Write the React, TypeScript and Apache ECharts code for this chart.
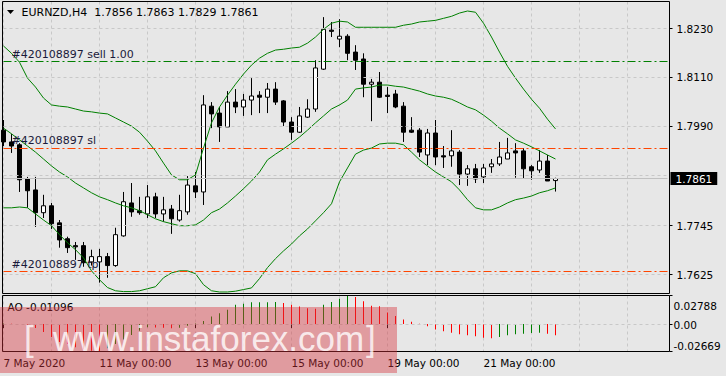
import React, { useEffect, useRef } from 'react';
import * as echarts from 'echarts';

// ---- categories (H4 bars) ----
const tradingDays = ['7 May', '8 May', '11 May', '12 May', '13 May', '14 May', '15 May', '18 May', '19 May', '20 May', '21 May', '22 May'];
const barHours = ['00:00', '04:00', '08:00', '12:00', '16:00', '20:00'];
const futureSlots = ['f1', 'f2', 'f3', 'f4', 'f5', 'f6', 'f7', 'f8', 'f9', 'f10', 'f11', 'f12'];

// ---- EURNZD H4 candles ----
const opens = [1.7980, 1.7951, 1.7944, 1.7860, 1.7833, 1.7777, 1.7794, 1.7752, 1.7713, 1.7696,
  1.7696, 1.7656, 1.7656, 1.7669, 1.7647, 1.7720, 1.7801, 1.7782, 1.7774, 1.7816,
  1.7774, 1.7786, 1.7759, 1.7779, 1.7843, 1.7828, 1.8039, 1.8022, 1.7988, 1.8049,
  1.8037, 1.8054, 1.8066, 1.8061, 1.8081, 1.8052, 1.8000, 1.7975, 1.8012, 1.8032,
  1.8130, 1.8226, 1.8204, 1.8211, 1.8172, 1.8155, 1.8093, 1.8098, 1.8066, 1.8069,
  1.8039, 1.7980, 1.7980, 1.7919, 1.7973, 1.7917, 1.7917, 1.7926, 1.7872, 1.7885,
  1.7865, 1.7890, 1.7897, 1.7909, 1.7929, 1.7929, 1.7890, 1.7882, 1.7904, 1.7856];
const closes = [1.7951, 1.7941, 1.7858, 1.7831, 1.7777, 1.7794, 1.7750, 1.7710, 1.7691, 1.7693,
  1.7654, 1.7669, 1.7669, 1.7647, 1.7723, 1.7804, 1.7779, 1.7777, 1.7816, 1.7774,
  1.7784, 1.7762, 1.7782, 1.7845, 1.7828, 1.8042, 1.8020, 1.7988, 1.8049, 1.8037,
  1.8054, 1.8064, 1.8061, 1.8081, 1.8049, 1.8000, 1.7975, 1.8015, 1.8032, 1.8133,
  1.8228, 1.8223, 1.8211, 1.8169, 1.8152, 1.8093, 1.8098, 1.8061, 1.8063, 1.8037,
  1.7975, 1.7975, 1.7926, 1.7973, 1.7914, 1.7914, 1.7929, 1.7872, 1.7885, 1.7860,
  1.7887, 1.7897, 1.7914, 1.7924, 1.7924, 1.7885, 1.7880, 1.7904, 1.7855, 1.7861];
const lows = [1.7941, 1.7924, 1.7828, 1.7789, 1.7742, 1.7764, 1.7737, 1.7691, 1.7678, 1.7661,
  1.7644, 1.7647, 1.7605, 1.7617, 1.7644, 1.7718, 1.7767, 1.7772, 1.7764, 1.7764,
  1.7755, 1.7725, 1.7755, 1.7772, 1.7813, 1.7796, 1.7985, 1.7951, 1.7988, 1.8022,
  1.8015, 1.8017, 1.8022, 1.8022, 1.8042, 1.7990, 1.7956, 1.7973, 1.8010, 1.8025,
  1.8128, 1.8209, 1.8184, 1.8152, 1.8128, 1.8061, 1.8002, 1.8059, 1.8022, 1.8034,
  1.7951, 1.7973, 1.7914, 1.7894, 1.7894, 1.7887, 1.7890, 1.7845, 1.7843, 1.7850,
  1.7850, 1.7875, 1.7892, 1.7909, 1.7863, 1.7860, 1.7858, 1.7875, 1.7855, 1.7829];
const highs = [1.8005, 1.7971, 1.7948, 1.7865, 1.7865, 1.7821, 1.7801, 1.7759, 1.7718, 1.7705,
  1.7705, 1.7686, 1.7688, 1.7678, 1.7740, 1.7828, 1.7850, 1.7816, 1.7845, 1.7826,
  1.7816, 1.7796, 1.7821, 1.7867, 1.7877, 1.8066, 1.8049, 1.8037, 1.8076, 1.8081,
  1.8069, 1.8108, 1.8076, 1.8096, 1.8098, 1.8054, 1.8012, 1.8037, 1.8056, 1.8152,
  1.8258, 1.8246, 1.8253, 1.8216, 1.8189, 1.8169, 1.8106, 1.8123, 1.8086, 1.8079,
  1.8049, 1.8012, 1.7985, 1.7983, 1.8005, 1.7941, 1.7980, 1.7931, 1.7894, 1.7897,
  1.7897, 1.7909, 1.7951, 1.7961, 1.7948, 1.7936, 1.7894, 1.7931, 1.7919, 1.7863];

// ---- Bollinger Bands ----
const bbUpper = [1.8187, 1.8169, 1.8147, 1.8108, 1.8086, 1.8059, 1.8042, 1.8039, 1.8037, 1.8032,
  1.8027, 1.8025, 1.8022, 1.8020, 1.8010, 1.8000, 1.7990, 1.7975, 1.7953, 1.7929,
  1.7899, 1.7870, 1.7858, 1.7858, 1.7870, 1.7936, 1.7998, 1.8037, 1.8066, 1.8093,
  1.8118, 1.8140, 1.8157, 1.8169, 1.8177, 1.8179, 1.8182, 1.8184, 1.8194, 1.8209,
  1.8228, 1.8243, 1.8248, 1.8246, 1.8233, 1.8233, 1.8233, 1.8233, 1.8233, 1.8233,
  1.8238, 1.8241, 1.8246, 1.8248, 1.8250, 1.8255, 1.8260, 1.8268, 1.8273, 1.8270,
  1.8243, 1.8209, 1.8172, 1.8137, 1.8108, 1.8081, 1.8056, 1.8034, 1.8007, 1.7983];
const bbMiddle = [1.7985, 1.7971, 1.7956, 1.7941, 1.7926, 1.7909, 1.7892, 1.7877, 1.7865, 1.7850,
  1.7838, 1.7826, 1.7816, 1.7809, 1.7801, 1.7794, 1.7789, 1.7782, 1.7772, 1.7762,
  1.7755, 1.7750, 1.7745, 1.7745, 1.7747, 1.7759, 1.7777, 1.7786, 1.7801, 1.7818,
  1.7836, 1.7855, 1.7877, 1.7907, 1.7921, 1.7934, 1.7948, 1.7963, 1.7980, 1.7998,
  1.8015, 1.8032, 1.8042, 1.8054, 1.8081, 1.8084, 1.8086, 1.8091, 1.8091, 1.8088,
  1.8086, 1.8081, 1.8076, 1.8069, 1.8064, 1.8061, 1.8056, 1.8047, 1.8037, 1.8030,
  1.8017, 1.8002, 1.7985, 1.7971, 1.7956, 1.7948, 1.7939, 1.7929, 1.7919, 1.7909];
const bbLower = [1.7789, 1.7789, 1.7791, 1.7789, 1.7774, 1.7759, 1.7745, 1.7723, 1.7703, 1.7686,
  1.7666, 1.7634, 1.7612, 1.7593, 1.7585, 1.7583, 1.7583, 1.7585, 1.7590, 1.7595,
  1.7617, 1.7629, 1.7634, 1.7634, 1.7627, 1.7600, 1.7585, 1.7582, 1.7582, 1.7584,
  1.7588, 1.7592, 1.7615, 1.7642, 1.7664, 1.7683, 1.7700, 1.7720, 1.7737, 1.7757,
  1.7777, 1.7799, 1.7853, 1.7887, 1.7921, 1.7931, 1.7936, 1.7946, 1.7948, 1.7948,
  1.7944, 1.7926, 1.7907, 1.7892, 1.7877, 1.7865, 1.7853, 1.7833, 1.7809, 1.7789,
  1.7784, 1.7784, 1.7791, 1.7801, 1.7809, 1.7813, 1.7818, 1.7826, 1.7831, 1.7838];

// ---- Awesome Oscillator ----
const aoValues = [0.0005, 0.0004, 0.0002, -0.0010, -0.0037, -0.0076, -0.0126, -0.0175, -0.0195, -0.0225,
  -0.0245, -0.0260, -0.02669, -0.0235, -0.0195, -0.0150, -0.0105, -0.0065, -0.0030, -0.0032,
  -0.0036, -0.0040, -0.0035, -0.0015, 0.0005, 0.0030, 0.0073, 0.0106, 0.0139, 0.0188,
  0.0198, 0.0212, 0.0213, 0.0214, 0.0215, 0.0205, 0.0188, 0.0172, 0.0155, 0.0150,
  0.0188, 0.0215, 0.0248, 0.02788, 0.0265, 0.0222, 0.0179, 0.0173, 0.0113, 0.0079,
  0.0046, 0.0023, 0.0003, -0.0020, -0.0053, -0.0069, -0.0083, -0.0099, -0.0109, -0.0119,
  -0.0132, -0.0139, -0.0126, -0.0109, -0.0099, -0.0093, -0.0086, -0.0083, -0.0093, -0.01096];

// ---- axes / levels ----
const priceTicks = [1.8230, 1.8110, 1.7990, 1.7745, 1.7625];
const priceGrid = [1.8230, 1.8110, 1.7990, 1.7868, 1.7745, 1.7625];
const priceMin = 1.75783;
const priceMax = 1.82964;
const aoTicks = [0.02788, 0, -0.02669];
const aoMin = -0.02669;
const aoMax = 0.02788;
const timeTickIndex = [0, 12, 24, 36, 48, 60];
const timeTickLabels = ['7 May 2020', '11 May 00:00', '13 May 00:00', '15 May 00:00', '19 May 00:00', '21 May 00:00'];
const symbolName = 'EURNZD,H4';
const orderLevels = [
  { text: '#420108897 sell 1.00', value: 1.81488, color: '#008000' },
  { text: '#420108897 sl', value: 1.7935, color: '#ff4500' },
  { text: '#420108897 tp', value: 1.76324, color: '#ff4500' },
];

const W = 726;
const H = 376;
const FONT = 'DejaVu Sans';

export default function App() {
  const ref = useRef<HTMLDivElement>(null);

  useEffect(() => {
    document.body.style.margin = '0';
    const el = ref.current!;
    const chart = echarts.init(el, undefined, { renderer: 'svg', width: W, height: H });

    const categories: string[] = [];
    tradingDays.forEach((d) => barHours.forEach((h) => categories.push(d + ' ' + h)));
    futureSlots.forEach((f) => categories.push(f));

    const last = opens.length - 1;
    const gridEvery = (i: number) => i % 6 === 0;
    const isTimeTick = (i: number) => timeTickIndex.indexOf(i) >= 0;

    const gridLine = { color: '#c8c8c8', type: [3, 3], width: 1 };

    const option: any = {
      animation: false,
      backgroundColor: '#e7e7e7',
      textStyle: { fontFamily: FONT },
      grid: [
        { left: 3.5, top: 1.5, width: 664, height: 292 },
        { left: 3.5, top: 295.5, width: 664, height: 56 },
      ],
      xAxis: [
        {
          type: 'category', gridIndex: 0, data: categories, boundaryGap: false,
          axisLine: { show: false }, axisTick: { show: false }, axisLabel: { show: false },
          splitLine: { show: true, interval: gridEvery, lineStyle: gridLine },
        },
        {
          type: 'category', gridIndex: 1, data: categories, boundaryGap: false,
          axisLine: { show: false },
          axisTick: { show: true, interval: isTimeTick, length: 4, lineStyle: { color: '#000' } },
          axisLabel: {
            show: true, interval: isTimeTick, align: 'left', margin: 6,
            color: '#000', fontFamily: FONT, fontSize: 10.5,
            formatter: (_v: string, i: number) => timeTickLabels[timeTickIndex.indexOf(i)] || '',
          },
          splitLine: { show: true, interval: gridEvery, lineStyle: gridLine },
        },
      ],
      yAxis: [
        {
          type: 'value', gridIndex: 0, position: 'right', offset: 2, min: priceMin, max: priceMax,
          axisLine: { show: false },
          axisTick: { show: true, length: 3, customValues: priceTicks, lineStyle: { color: '#000' } },
          axisLabel: {
            customValues: priceTicks, margin: 7, color: '#000', fontFamily: FONT, fontSize: 10.5,
            formatter: (v: number) => v.toFixed(4),
          },
          splitLine: { show: false },
        },
        {
          type: 'value', gridIndex: 1, position: 'right', offset: 2, min: aoMin, max: aoMax,
          axisLine: { show: false },
          axisTick: { show: true, length: 3, customValues: aoTicks, lineStyle: { color: '#000' } },
          axisLabel: {
            customValues: aoTicks, margin: 4, color: '#000', fontFamily: FONT, fontSize: 10.5,
            formatter: (v: number) => {
              if (v === 0) return '{m|0.00}';
              return v > 0 ? '{t|' + v.toFixed(5) + '}' : '{b|' + v.toFixed(5) + '}';
            },
            rich: {
              t: { padding: [20, 0, 0, 0], fontFamily: FONT, fontSize: 10.5, color: '#000' },
              m: { padding: [2, 0, 0, 0], fontFamily: FONT, fontSize: 10.5, color: '#000' },
              b: { padding: [0, 0, 12, 0], fontFamily: FONT, fontSize: 10.5, color: '#000' },
            },
          },
          splitLine: { show: false },
        },
      ],
      series: [
        {
          // horizontal price grid (behind the candles)
          type: 'line', name: 'grid', xAxisIndex: 0, yAxisIndex: 0, z: 1, data: [],
          markLine: {
            silent: true, symbol: ['none', 'none'], animation: false, precision: 6,
            data: priceGrid.map((v) => ({ yAxis: v, lineStyle: gridLine, label: { show: false } })),
          },
        },
        {
          // trade levels (sell / sl / tp), drawn just above the grid
          type: 'line', name: 'orders', xAxisIndex: 0, yAxisIndex: 0, z: 2, data: [],
          markLine: {
            silent: true, symbol: ['none', 'none'], animation: false, precision: 6,
            data: orderLevels.map((l) => ({
              yAxis: l.value,
              lineStyle: { color: l.color, type: [8, 3, 2, 3], width: 1, opacity: 1 },
              label: {
                show: true, position: 'insideStartTop', formatter: l.text, distance: [8, 2],
                color: '#1a1a3a', fontFamily: FONT, fontSize: 11,
              },
            })),
          },
        },
        {
          type: 'candlestick', name: 'EURNZD', xAxisIndex: 0, yAxisIndex: 0, z: 3,
          data: opens.map((o, i) => [o, closes[i], lows[i], highs[i]]),
          barWidth: 4,
          itemStyle: { color: '#ffffff', color0: '#000000', borderColor: '#000000', borderColor0: '#000000', borderWidth: 1 },
          markLine: {
            silent: true, symbol: ['none', 'none'], animation: false, precision: 6,
            data: [
              {
                yAxis: closes[last],
                lineStyle: { color: '#c0c0c0', type: 'solid', width: 1 },
                label: {
                  show: true, position: 'end', formatter: closes[last].toFixed(4), distance: 3,
                  backgroundColor: '#000', color: '#fff', padding: [1, 5, 1, 5],
                  fontFamily: FONT, fontSize: 10.5,
                },
              },
            ],
          },
        },
        ...[bbUpper, bbMiddle, bbLower].map((d, i) => ({
          type: 'line', name: 'BB' + i, xAxisIndex: 0, yAxisIndex: 0, z: 4,
          data: d, showSymbol: false, symbol: 'none', clip: true,
          lineStyle: { color: '#008000', width: 1 },
        })),
        {
          type: 'bar', name: 'AO', xAxisIndex: 1, yAxisIndex: 1, barWidth: 1, z: 3,
          data: aoValues.map((v, i) => ({
            value: v,
            itemStyle: { color: i > 0 && v < aoValues[i - 1] ? '#ff0000' : '#008000' },
          })),
          markLine: {
            silent: true, symbol: ['none', 'none'], animation: false, precision: 6,
            data: [{ yAxis: 0, lineStyle: gridLine, label: { show: false } }],
          },
        },
      ],
      graphic: [
        { type: 'rect', z: 50, silent: true, shape: { x: 2.5, y: 1.5, width: 667, height: 292 }, style: { fill: 'none', stroke: '#000', lineWidth: 1 } },
        { type: 'rect', z: 50, silent: true, shape: { x: 2.5, y: 295.5, width: 667, height: 56 }, style: { fill: 'none', stroke: '#000', lineWidth: 1 } },
        { type: 'polygon', z: 50, silent: true, shape: { points: [[7, 10], [14, 10], [10.5, 14]] }, style: { fill: '#000' } },
        {
          type: 'text', z: 50, silent: true, x: 21.5, y: 12.5,
          style: {
            text: symbolName + '  ' + [opens[last], highs[last], lows[last], closes[last]].map((v) => v.toFixed(4)).join(' '),
            fill: '#000', font: '11px "DejaVu Sans"', verticalAlign: 'middle', align: 'left',
          },
        },
        {
          type: 'text', z: 50, silent: true, x: 7.5, y: 307,
          style: { text: 'AO ' + aoValues[last].toFixed(5), fill: '#000', font: '10.5px "DejaVu Sans"', verticalAlign: 'middle', align: 'left' },
        },
        // watermark
        { type: 'rect', z: 100, silent: true, shape: { x: 0, y: 307, width: 397, height: 66 }, style: { fill: 'rgba(215,50,60,0.42)' } },
        { type: 'text', z: 101, silent: true, x: 24, y: 338, style: { text: '[', fill: 'rgba(255,255,255,0.75)', font: '35px "Liberation Sans"', lineHeight: 36, verticalAlign: 'middle', align: 'left' } },
        { type: 'text', z: 101, silent: true, x: 53, y: 338, style: { text: 'www.instaforex.com', fill: 'rgba(255,255,255,0.8)', font: '35px "Liberation Sans"', lineHeight: 36, verticalAlign: 'middle', align: 'left' } },
        { type: 'text', z: 101, silent: true, x: 366, y: 338, style: { text: ']', fill: 'rgba(255,255,255,0.75)', font: '35px "Liberation Sans"', lineHeight: 36, verticalAlign: 'middle', align: 'left' } },
      ],
    };

    chart.setOption(option);
    return () => chart.dispose();
  }, []);

  return <div ref={ref} style={{ width: W, height: H, position: 'fixed', left: 0, top: 0 }} />;
}
